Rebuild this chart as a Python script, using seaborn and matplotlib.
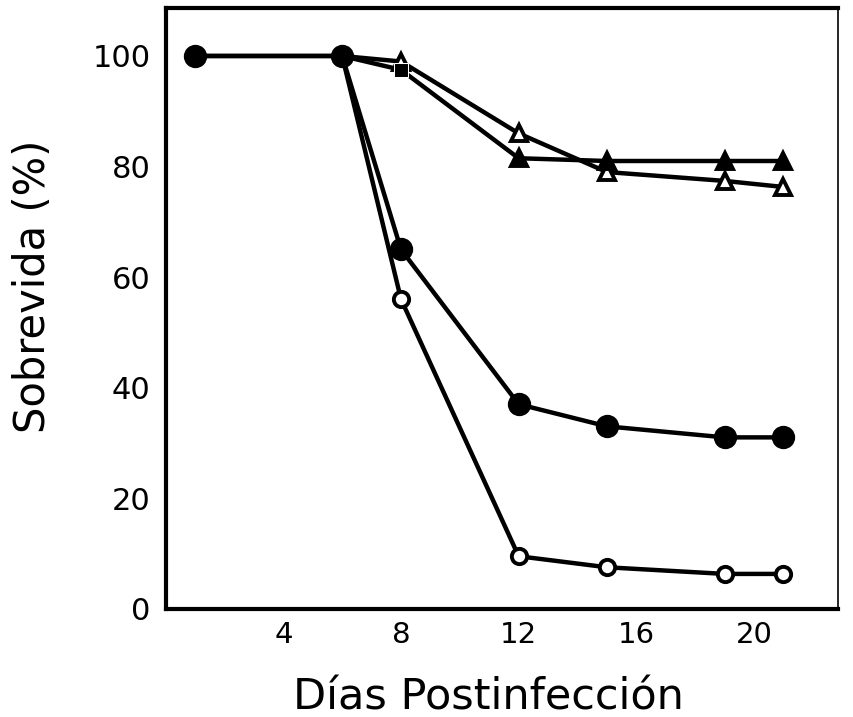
import matplotlib
matplotlib.use("Agg")
import matplotlib.pyplot as plt
import seaborn as sns

# survival curves
days_circ = [1, 6, 8, 12, 15, 19, 21]
filled_circle = [100, 100, 65, 37, 33, 31, 31]
open_circle = [100, 100, 56, 9.5, 7.5, 6.3, 6.3]

days_tri = [6, 8, 12, 15, 19, 21]
filled_tri = [100, 97.5, 81.5, 81, 81, 81]
open_tri = [100, 99, 86, 79, 77.4, 76.3]

x_ticks = [4, 8, 12, 16, 20]
y_ticks = [0, 20, 40, 60, 80, 100]

sns.set_style("white")
plt.rcParams['font.family'] = ['DejaVu Sans']

fig = plt.figure(figsize=(8.54, 7.17), dpi=100)
ax = fig.add_axes([0.194, 0.151, 0.787, 0.838])

line_kw = dict(color="black", lw=3.2, markeredgecolor="black", markeredgewidth=2.8)

# triangles first so the circles at day 6 sit on top
sns.lineplot(x=days_tri, y=open_tri, marker="^", markersize=12, markerfacecolor="white",
             markevery=list(range(1, len(days_tri))), ax=ax, **line_kw)
sns.lineplot(x=days_tri, y=filled_tri, marker="^", markersize=12, markerfacecolor="black",
             markevery=list(range(2, len(days_tri))), ax=ax, **line_kw)
# filled square at day 8 of the filled-triangle group
sns.lineplot(x=days_tri[1:2], y=filled_tri[1:2], marker="s", markersize=10,
             markerfacecolor="black", lw=0, ax=ax, color="black")
sns.lineplot(x=days_circ, y=open_circle, marker="o", markersize=11, markerfacecolor="white",
             ax=ax, **line_kw)
sns.lineplot(x=days_circ, y=filled_circle, marker="o", markersize=14, markerfacecolor="black",
             ax=ax, **line_kw)

ax.set_xlim(0, 22.85)
ax.set_ylim(0, 108.7)
ax.set_xticks(x_ticks)
ax.set_yticks(y_ticks)
ax.tick_params(direction="in", length=14, width=2.5, pad=9, color="black", labelcolor="black")
ax.tick_params(axis="x", labelsize=21)
ax.tick_params(axis="y", labelsize=22, pad=11)

for side in ["left", "bottom", "top"]:
    ax.spines[side].set_linewidth(3)
    ax.spines[side].set_color("black")
ax.spines["right"].set_linewidth(1.2)
ax.spines["right"].set_color("black")

ax.set_xlabel("Días Postinfección", fontsize=31, color="black")
ax.set_ylabel("Sobrevida (%)", fontsize=30, color="black")
ax.xaxis.set_label_coords(0.48, -0.113)
ax.yaxis.set_label_coords(-0.166, 0.536)

fig.savefig("out.png", dpi=100)
